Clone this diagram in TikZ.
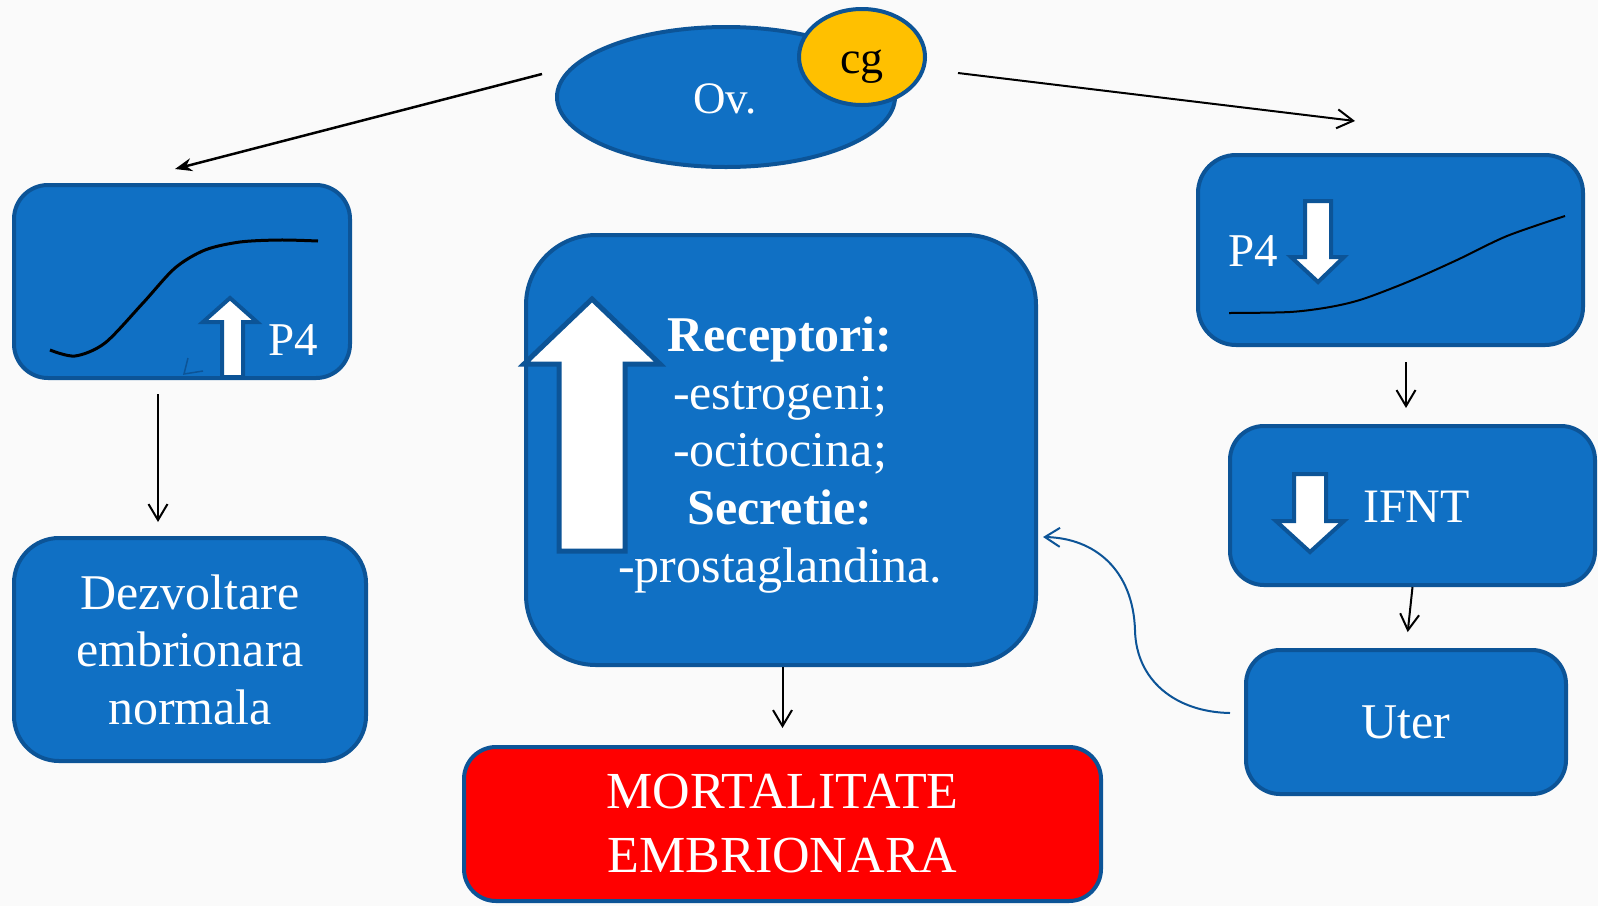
\documentclass[tikz,border=0pt]{standalone}
\usepackage{fontspec}
\setmainfont{Liberation Serif}
\usetikzlibrary{arrows.meta,shapes.geometric}
\definecolor{boxfill}{HTML}{1070C4}
\definecolor{boxline}{HTML}{0C5497}
\definecolor{cgfill}{HTML}{FFC000}
\definecolor{bgcol}{HTML}{FAFAFA}
\begin{document}
\begin{tikzpicture}[x=1pt,y=-1pt,
  box/.style={draw=boxline, line width=4pt, fill=boxfill, rounded corners=#1, text=white, align=center, inner sep=0pt},
  box/.default=34pt,
  bigtxt/.style={font=\fontsize{50}{57.5}\selectfont},
  arr/.style={draw=black, line width=2pt, -{Straight Barb[length=16pt,width=19pt]}},
  arrfill/.style={draw=black, line width=2.5pt, -{Stealth[length=17pt,width=13pt]}},
  bluearr/.style={draw=boxline, line width=2pt, -{Straight Barb[length=15pt,width=19pt]}},
  blockarr/.style={fill=white, draw=boxline, line width=4pt, line join=miter},
  curve/.style={draw=black, line width=2.5pt}]
\fill[bgcol] (0,0) rectangle (1598,906);
\useasboundingbox (0,0) rectangle (1598,906);

% ovary and cg
\node[ellipse, draw=boxline, line width=4pt, fill=boxfill, minimum width=338pt, minimum height=140pt, inner sep=0pt] (ov) at (726,97) {};
\node[anchor=base, text=white, font=\fontsize{45}{50}\selectfont] (ovtxt) at (725,113) {Ov.};
\node[ellipse, draw=boxline, line width=4pt, fill=cgfill, minimum width=126pt, minimum height=96pt, inner sep=0pt] (cg) at (862,57) {};
\node[anchor=base, font=\fontsize{46}{50}\selectfont] (cgtxt) at (862,73) {cg};

% boxes
\node[box, minimum width=336pt, minimum height=193pt] (lbox) at (182,281.5) {};
\node[box=38pt, minimum width=385pt, minimum height=190pt] (rbox) at (1390.5,250) {};
\node[box, minimum width=365pt, minimum height=159pt] (ibox) at (1412.5,505.5) {};
\node[box, minimum width=320pt, minimum height=144pt, bigtxt] (ubox) at (1406,722) {Uter};
\node[box=70pt, minimum width=510pt, minimum height=430pt] (cbox) at (781,450) {};
\node[box=45pt, minimum width=352pt, minimum height=223pt, bigtxt] (dbox) at (190,649.5) {Dezvoltare\\embrionara\\normala};
\node[box=32pt, fill=red, minimum width=637pt, minimum height=154pt, font=\fontsize{52}{64}\selectfont] (mbox) at (782.5,824) {MORTALITATE\\EMBRIONARA};

% left box graph
\draw[curve, line width=3pt] plot[smooth] coordinates {(50,350) (75,356) (105,343) (143,303) (175,268) (205,250) (240,242) (280,240) (318,241)};
\draw[blockarr] (230,298) -- (257,322) -- (243,322) -- (243,377) -- (222,377) -- (222,322) -- (203,322) -- cycle;
\draw[boxline, line width=1.5pt] (188,358) -- (184,374) -- (203,371);
\node[anchor=base west, inner sep=0pt, text=white, font=\fontsize{47}{50}\selectfont] (p4l) at (268,355) {P4};

% right box graph
\draw[curve, line width=2pt] plot[smooth] coordinates {(1229,313) (1290,312) (1330,307) (1363,299) (1410,281) (1457,260) (1507,236) (1565,216)};
\draw[blockarr] (1305,201) -- (1331,201) -- (1331,257) -- (1344,257) -- (1318,282) -- (1291,257) -- (1305,257) -- cycle;
\node[anchor=base west, inner sep=0pt, text=white, font=\fontsize{47}{50}\selectfont] (p4r) at (1228,266) {P4};

% IFNT box content
\draw[blockarr] (1294,474) -- (1326,474) -- (1326,521) -- (1344,521) -- (1310,552) -- (1276,521) -- (1294,521) -- cycle;
\node[anchor=base west, inner sep=0pt, text=white, font=\fontsize{48}{50}\selectfont] (ifnt) at (1363,522) {IFNT};

% center box content
\draw[blockarr, line width=5pt] (592,299) -- (660,364) -- (625,364) -- (625,551) -- (559,551) -- (559,364) -- (524,364) -- cycle;
\node[text=white, align=center, inner sep=0pt, font=\fontsize{50}{57.75}\selectfont] (ctxt) at (780,455) {\textbf{Receptori:}\\-estrogeni;\\-ocitocina;\\\textbf{Secretie:}\\-prostaglandina.};

% connectors
\coordinate (ovl) at (542,74);
\coordinate (lin) at (175,169);
\coordinate (ovr) at (958,73);
\coordinate (rin) at (1355,121);
\coordinate (lcol) at (158,0);
\draw[arrfill] (ovl) -- (lin);
\draw[arr] (ovr) -- (rin);
\draw[arr, shorten <=14pt, shorten >=14pt] (lbox.south -| lcol) -- (dbox.north -| lcol);
\draw[arr, shorten <=15pt, shorten >=16pt] (rbox.south -| ubox.north) -- (ibox.north -| ubox.north);
\draw[arr, shorten >=16pt] (ibox.south) -- (ubox.north);
\draw[arr, shorten >=17pt] (cbox.south -| mbox.north) -- (mbox.north);
\draw[bluearr] ([xshift=-14pt,yshift=9pt]ubox.west) .. controls (1175,712) and (1136,680) .. (1135,630) .. controls (1133,570) and (1095,538) .. ([xshift=5pt,yshift=-87pt]cbox.east);
\end{tikzpicture}
\end{document}
